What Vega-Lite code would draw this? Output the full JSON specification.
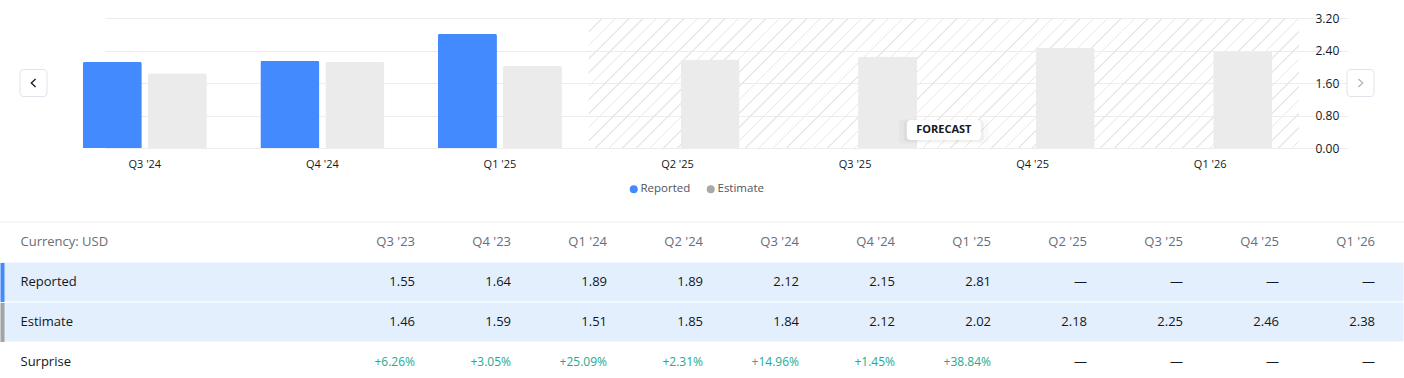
{
  "$schema": "https://vega.github.io/schema/vega-lite/v6.json",
  "width": 1404,
  "height": 378,
  "autosize": {"type": "none"},
  "padding": 0,
  "background": "white",
  "config": {
    "font": "Open Sans",
    "view": {"stroke": null},
    "axis": {"labelFont": "Open Sans"},
    "legend": {"labelFont": "Open Sans"},
    "text": {"font": "Open Sans"}
  },
  "datasets": {
    "eps": [
      {"quarter": "Q3 '24", "series": "Reported", "value": 2.12},
      {"quarter": "Q3 '24", "series": "Estimate", "value": 1.84},
      {"quarter": "Q4 '24", "series": "Reported", "value": 2.15},
      {"quarter": "Q4 '24", "series": "Estimate", "value": 2.12},
      {"quarter": "Q1 '25", "series": "Reported", "value": 2.81},
      {"quarter": "Q1 '25", "series": "Estimate", "value": 2.02},
      {"quarter": "Q2 '25", "series": "Estimate", "value": 2.18},
      {"quarter": "Q3 '25", "series": "Estimate", "value": 2.25},
      {"quarter": "Q4 '25", "series": "Estimate", "value": 2.46},
      {"quarter": "Q1 '26", "series": "Estimate", "value": 2.38}
    ],
    "table": [
      {"quarter": "Q3 '23", "row": "Reported", "text": "1.55"},
      {"quarter": "Q4 '23", "row": "Reported", "text": "1.64"},
      {"quarter": "Q1 '24", "row": "Reported", "text": "1.89"},
      {"quarter": "Q2 '24", "row": "Reported", "text": "1.89"},
      {"quarter": "Q3 '24", "row": "Reported", "text": "2.12"},
      {"quarter": "Q4 '24", "row": "Reported", "text": "2.15"},
      {"quarter": "Q1 '25", "row": "Reported", "text": "2.81"},
      {"quarter": "Q2 '25", "row": "Reported", "text": "—"},
      {"quarter": "Q3 '25", "row": "Reported", "text": "—"},
      {"quarter": "Q4 '25", "row": "Reported", "text": "—"},
      {"quarter": "Q1 '26", "row": "Reported", "text": "—"},
      {"quarter": "Q3 '23", "row": "Estimate", "text": "1.46"},
      {"quarter": "Q4 '23", "row": "Estimate", "text": "1.59"},
      {"quarter": "Q1 '24", "row": "Estimate", "text": "1.51"},
      {"quarter": "Q2 '24", "row": "Estimate", "text": "1.85"},
      {"quarter": "Q3 '24", "row": "Estimate", "text": "1.84"},
      {"quarter": "Q4 '24", "row": "Estimate", "text": "2.12"},
      {"quarter": "Q1 '25", "row": "Estimate", "text": "2.02"},
      {"quarter": "Q2 '25", "row": "Estimate", "text": "2.18"},
      {"quarter": "Q3 '25", "row": "Estimate", "text": "2.25"},
      {"quarter": "Q4 '25", "row": "Estimate", "text": "2.46"},
      {"quarter": "Q1 '26", "row": "Estimate", "text": "2.38"},
      {"quarter": "Q3 '23", "row": "Surprise", "text": "+6.26%"},
      {"quarter": "Q4 '23", "row": "Surprise", "text": "+3.05%"},
      {"quarter": "Q1 '24", "row": "Surprise", "text": "+25.09%"},
      {"quarter": "Q2 '24", "row": "Surprise", "text": "+2.31%"},
      {"quarter": "Q3 '24", "row": "Surprise", "text": "+14.96%"},
      {"quarter": "Q4 '24", "row": "Surprise", "text": "+1.45%"},
      {"quarter": "Q1 '25", "row": "Surprise", "text": "+38.84%"},
      {"quarter": "Q2 '25", "row": "Surprise", "text": "—"},
      {"quarter": "Q3 '25", "row": "Surprise", "text": "—"},
      {"quarter": "Q4 '25", "row": "Surprise", "text": "—"},
      {"quarter": "Q1 '26", "row": "Surprise", "text": "—"}
    ]
  },
  "layer": [
    {
      "layer": [
        {
          "data": {"values": [{"quarter": "Q2 '25"}, {"quarter": "Q3 '25"}, {"quarter": "Q4 '25"}, {"quarter": "Q1 '26"}]},
          "mark": {
            "type": "rect",
            "fill": {
              "gradient": "linear", "x1": 0, "y1": 0, "x2": 1.1277, "y2": 0.8256,
              "stops": [
                {"offset": 0, "color": "rgba(255,255,255,0)"},
                {"offset": 0.04191, "color": "rgba(255,255,255,0)"}, {"offset": 0.04191, "color": "#e8e8e8"}, {"offset": 0.04691, "color": "#e8e8e8"}, {"offset": 0.04691, "color": "rgba(255,255,255,0)"},
                {"offset": 0.08632, "color": "rgba(255,255,255,0)"}, {"offset": 0.08632, "color": "#e8e8e8"}, {"offset": 0.09132, "color": "#e8e8e8"}, {"offset": 0.09132, "color": "rgba(255,255,255,0)"},
                {"offset": 0.13073, "color": "rgba(255,255,255,0)"}, {"offset": 0.13073, "color": "#e8e8e8"}, {"offset": 0.13573, "color": "#e8e8e8"}, {"offset": 0.13573, "color": "rgba(255,255,255,0)"},
                {"offset": 0.17514, "color": "rgba(255,255,255,0)"}, {"offset": 0.17514, "color": "#e8e8e8"}, {"offset": 0.18014, "color": "#e8e8e8"}, {"offset": 0.18014, "color": "rgba(255,255,255,0)"},
                {"offset": 0.21955, "color": "rgba(255,255,255,0)"}, {"offset": 0.21955, "color": "#e8e8e8"}, {"offset": 0.22455, "color": "#e8e8e8"}, {"offset": 0.22455, "color": "rgba(255,255,255,0)"},
                {"offset": 0.26396, "color": "rgba(255,255,255,0)"}, {"offset": 0.26396, "color": "#e8e8e8"}, {"offset": 0.26896, "color": "#e8e8e8"}, {"offset": 0.26896, "color": "rgba(255,255,255,0)"},
                {"offset": 0.30837, "color": "rgba(255,255,255,0)"}, {"offset": 0.30837, "color": "#e8e8e8"}, {"offset": 0.31337, "color": "#e8e8e8"}, {"offset": 0.31337, "color": "rgba(255,255,255,0)"},
                {"offset": 0.35278, "color": "rgba(255,255,255,0)"}, {"offset": 0.35278, "color": "#e8e8e8"}, {"offset": 0.35778, "color": "#e8e8e8"}, {"offset": 0.35778, "color": "rgba(255,255,255,0)"},
                {"offset": 0.39719, "color": "rgba(255,255,255,0)"}, {"offset": 0.39719, "color": "#e8e8e8"}, {"offset": 0.40219, "color": "#e8e8e8"}, {"offset": 0.40219, "color": "rgba(255,255,255,0)"},
                {"offset": 0.4416, "color": "rgba(255,255,255,0)"}, {"offset": 0.4416, "color": "#e8e8e8"}, {"offset": 0.4466, "color": "#e8e8e8"}, {"offset": 0.4466, "color": "rgba(255,255,255,0)"},
                {"offset": 0.48601, "color": "rgba(255,255,255,0)"}, {"offset": 0.48601, "color": "#e8e8e8"}, {"offset": 0.49101, "color": "#e8e8e8"}, {"offset": 0.49101, "color": "rgba(255,255,255,0)"},
                {"offset": 0.53042, "color": "rgba(255,255,255,0)"}, {"offset": 0.53042, "color": "#e8e8e8"}, {"offset": 0.53542, "color": "#e8e8e8"}, {"offset": 0.53542, "color": "rgba(255,255,255,0)"},
                {"offset": 0.57483, "color": "rgba(255,255,255,0)"}, {"offset": 0.57483, "color": "#e8e8e8"}, {"offset": 0.57983, "color": "#e8e8e8"}, {"offset": 0.57983, "color": "rgba(255,255,255,0)"},
                {"offset": 0.61924, "color": "rgba(255,255,255,0)"}, {"offset": 0.61924, "color": "#e8e8e8"}, {"offset": 0.62424, "color": "#e8e8e8"}, {"offset": 0.62424, "color": "rgba(255,255,255,0)"},
                {"offset": 0.66365, "color": "rgba(255,255,255,0)"}, {"offset": 0.66365, "color": "#e8e8e8"}, {"offset": 0.66865, "color": "#e8e8e8"}, {"offset": 0.66865, "color": "rgba(255,255,255,0)"},
                {"offset": 0.70806, "color": "rgba(255,255,255,0)"}, {"offset": 0.70806, "color": "#e8e8e8"}, {"offset": 0.71306, "color": "#e8e8e8"}, {"offset": 0.71306, "color": "rgba(255,255,255,0)"},
                {"offset": 0.75247, "color": "rgba(255,255,255,0)"}, {"offset": 0.75247, "color": "#e8e8e8"}, {"offset": 0.75747, "color": "#e8e8e8"}, {"offset": 0.75747, "color": "rgba(255,255,255,0)"},
                {"offset": 0.79688, "color": "rgba(255,255,255,0)"}, {"offset": 0.79688, "color": "#e8e8e8"}, {"offset": 0.80188, "color": "#e8e8e8"}, {"offset": 0.80188, "color": "rgba(255,255,255,0)"},
                {"offset": 0.84129, "color": "rgba(255,255,255,0)"}, {"offset": 0.84129, "color": "#e8e8e8"}, {"offset": 0.84629, "color": "#e8e8e8"}, {"offset": 0.84629, "color": "rgba(255,255,255,0)"},
                {"offset": 0.8857, "color": "rgba(255,255,255,0)"}, {"offset": 0.8857, "color": "#e8e8e8"}, {"offset": 0.8907, "color": "#e8e8e8"}, {"offset": 0.8907, "color": "rgba(255,255,255,0)"},
                {"offset": 0.93011, "color": "rgba(255,255,255,0)"}, {"offset": 0.93011, "color": "#e8e8e8"}, {"offset": 0.93511, "color": "#e8e8e8"}, {"offset": 0.93511, "color": "rgba(255,255,255,0)"},
                {"offset": 0.97452, "color": "rgba(255,255,255,0)"}, {"offset": 0.97452, "color": "#e8e8e8"}, {"offset": 0.97952, "color": "#e8e8e8"}, {"offset": 0.97952, "color": "rgba(255,255,255,0)"},
                {"offset": 1, "color": "rgba(255,255,255,0)"}
              ]
            }
          },
          "encoding": {
            "x": {"field": "quarter", "type": "nominal", "title": null},
            "y": {"datum": 3.2},
            "y2": {"datum": 0}
          }
        },
        {
          "data": {"name": "eps"},
          "mark": {"type": "bar", "cornerRadiusTopLeft": 2, "cornerRadiusTopRight": 2},
          "encoding": {
            "x": {
              "field": "quarter", "type": "nominal", "title": null,
              "scale": {"type": "band", "domain": ["Q3 '24", "Q4 '24", "Q1 '25", "Q2 '25", "Q3 '25", "Q4 '25", "Q1 '26"], "range": [56, 1299], "paddingInner": 0, "paddingOuter": 0},
              "axis": {"orient": "bottom", "offset": -230, "domain": false, "ticks": false, "tickSize": 0, "labelPadding": 10, "labelAlign": "center", "labelBaseline": "top", "labelOffset": 0, "labelFontSize": 11, "labelColor": "#131722", "labelAngle": 0, "grid": false, "title": null, "labelOverlap": false}
            },
            "xOffset": {"field": "series", "type": "nominal", "scale": {"domain": ["Reported", "Estimate"], "paddingInner": 0.092, "paddingOuter": 0.412}},
            "y": {
              "field": "value", "type": "quantitative", "title": null,
              "scale": {"domain": [0, 3.2], "range": [148, 18], "nice": false, "zero": true},
              "axis": {"orient": "right", "offset": -89, "values": [0, 0.8, 1.6, 2.4, 3.2], "format": ".2f", "domain": false, "ticks": false, "tickSize": 0, "labelPadding": 0, "labelAlign": "left", "labelFontSize": 12, "labelColor": "#131722", "labelBaseline": "middle", "labelFlush": false, "labelOverlap": false, "grid": true, "gridColor": "#ededed", "title": null}
            },
            "fill": {"field": "series", "type": "nominal", "scale": {"range": ["#ebebeb", "#448aff"]}, "legend": null}
          }
        },
        {
          "data": {"values": [{"key": "Reported"}, {"key": "Estimate"}]},
          "mark": {"type": "point", "filled": true, "opacity": 0},
          "encoding": {
            "color": {
              "field": "key", "type": "nominal",
              "scale": {"domain": ["Reported", "Estimate"], "range": ["#448aff", "#a8a8a8"]},
              "legend": {"orient": "none", "legendX": 628, "legendY": 183, "direction": "horizontal", "title": null, "symbolType": "circle", "symbolSize": 64, "symbolStrokeWidth": 0, "symbolOpacity": 1, "labelFontSize": 11.5, "labelColor": "#50535e", "labelOffset": 1, "columnPadding": 14, "padding": 0}
            }
          }
        },
        {
          "data": {"values": [{"quarter": "Q3 '24"}]},
          "mark": {"type": "point", "filled": true, "fill": "white", "stroke": "#e0e3eb", "strokeWidth": 1, "opacity": 1, "size": 729,
            "shape": "M-8.9444,-1 L-7.5444,-1 Q-7.2444,-1 -7.2444,-0.7 L-7.2444,0.7 Q-7.2444,1 -7.5444,1 L-8.9444,1 Q-9.2444,1 -9.2444,0.7 L-9.2444,-0.7 Q-9.2444,-1 -8.9444,-1 Z"},
          "encoding": {"x": {"field": "quarter", "type": "nominal", "title": null}, "y": {"datum": 1.6}}
        },
        {
          "data": {"values": [{"quarter": "Q3 '24"}]},
          "mark": {"type": "point", "filled": false, "stroke": "#131722", "strokeWidth": 1.3, "opacity": 1, "size": 729,
            "shape": "M-8.089,-0.296 L-8.407,0 L-8.089,0.296"},
          "encoding": {"x": {"field": "quarter", "type": "nominal", "title": null}, "y": {"datum": 1.6}}
        },
        {
          "data": {"values": [{"quarter": "Q1 '26"}]},
          "mark": {"type": "point", "filled": true, "fill": "white", "stroke": "#e0e3eb", "strokeWidth": 1, "opacity": 1, "size": 729,
            "shape": "M10.433,-1 L11.833,-1 Q12.133,-1 12.133,-0.7 L12.133,0.7 Q12.133,1 11.833,1 L10.433,1 Q10.133,1 10.133,0.7 L10.133,-0.7 Q10.133,-1 10.433,-1 Z"},
          "encoding": {"x": {"field": "quarter", "type": "nominal", "title": null}, "y": {"datum": 1.6}}
        },
        {
          "data": {"values": [{"quarter": "Q1 '26"}]},
          "mark": {"type": "point", "filled": false, "stroke": "#b2b5be", "strokeWidth": 1.3, "opacity": 1, "size": 729,
            "shape": "M10.977,-0.296 L11.295,0 L10.977,0.296"},
          "encoding": {"x": {"field": "quarter", "type": "nominal", "title": null}, "y": {"datum": 1.6}}
        },
        {
          "data": {"values": [{"quarter": "Q4 '25"}]},
          "mark": {"type": "point", "filled": true, "fill": "black", "opacity": 0.025, "size": 8100,
            "shape": "M-0.892,-0.27 L0.892,-0.27 Q1,-0.27 1,-0.162 L1,0.162 Q1,0.27 0.892,0.27 L-0.892,0.27 Q-1,0.27 -1,0.162 L-1,-0.162 Q-1,-0.27 -0.892,-0.27 Z"},
          "encoding": {"x": {"field": "quarter", "type": "nominal", "bandPosition": 0, "title": null}, "y": {"datum": 0.41}}
        },
        {
          "data": {"values": [{"quarter": "Q4 '25"}]},
          "mark": {"type": "point", "filled": true, "fill": "black", "opacity": 0.04, "size": 6400,
            "shape": "M-0.892,-0.27 L0.892,-0.27 Q1,-0.27 1,-0.162 L1,0.162 Q1,0.27 0.892,0.27 L-0.892,0.27 Q-1,0.27 -1,0.162 L-1,-0.162 Q-1,-0.27 -0.892,-0.27 Z"},
          "encoding": {"x": {"field": "quarter", "type": "nominal", "bandPosition": 0, "title": null}, "y": {"datum": 0.42}}
        },
        {
          "data": {"values": [{"quarter": "Q4 '25"}]},
          "mark": {"type": "point", "filled": true, "fill": "white", "opacity": 1, "size": 5476,
            "shape": "M-0.892,-0.27 L0.892,-0.27 Q1,-0.27 1,-0.162 L1,0.162 Q1,0.27 0.892,0.27 L-0.892,0.27 Q-1,0.27 -1,0.162 L-1,-0.162 Q-1,-0.27 -0.892,-0.27 Z"},
          "encoding": {"x": {"field": "quarter", "type": "nominal", "bandPosition": 0, "title": null}, "y": {"datum": 0.443}}
        },
        {
          "data": {"values": [{"quarter": "Q4 '25", "label": "FORECAST"}]},
          "mark": {"type": "text", "font": "Open Sans", "fontSize": 11, "fontWeight": "bold", "color": "#131722", "align": "center", "baseline": "middle"},
          "encoding": {"x": {"field": "quarter", "type": "nominal", "bandPosition": 0, "title": null}, "y": {"datum": 0.443}, "text": {"field": "label"}}
        }
      ]
    },
    {
      "layer": [
        {
          "data": {"values": [{"row": "Reported"}, {"row": "Estimate"}]},
          "mark": {"type": "rect", "fill": "#e3effd", "stroke": "white", "strokeWidth": 1},
          "encoding": {
            "y": {
              "field": "row", "type": "nominal", "title": null,
              "scale": {"type": "band", "domain": ["Currency: USD", "Reported", "Estimate", "Surprise"], "range": [222, 382], "paddingInner": 0, "paddingOuter": 0},
              "axis": {
                "orient": "left", "offset": -4, "domain": false, "ticks": true, "tickSize": 4, "tickWidth": 39, "tickCap": "butt",
                "tickColor": {"condition": [{"test": "datum.value === 'Reported'", "value": "#448aff"}, {"test": "datum.value === 'Estimate'", "value": "#a3a3a3"}], "value": "transparent"},
                "labelPadding": -20, "labelAlign": "left", "labelBaseline": "middle", "labelFontSize": 13,
                "labelColor": {"condition": {"test": "datum.value === 'Currency: USD'", "value": "#6a6d78"}, "value": "#131722"},
                "grid": false, "title": null, "zindex": 1, "labelOverlap": false
              }
            }
          }
        },
        {
          "data": {"values": [{"row": "Currency: USD"}]},
          "mark": {"type": "rule", "color": "#ececec", "strokeWidth": 1},
          "encoding": {"y": {"field": "row", "type": "nominal", "bandPosition": 0, "title": null}}
        },
        {
          "data": {"name": "table"},
          "mark": {"type": "text", "align": "right", "baseline": "middle", "font": "Open Sans"},
          "encoding": {
            "x": {
              "field": "quarter", "type": "nominal", "bandPosition": 1, "title": null,
              "scale": {"type": "band", "domain": ["Q3 '23", "Q4 '23", "Q1 '24", "Q2 '24", "Q3 '24", "Q4 '24", "Q1 '25", "Q2 '25", "Q3 '25", "Q4 '25", "Q1 '26"], "range": [319, 1375], "paddingInner": 0, "paddingOuter": 0},
              "axis": {"orient": "top", "offset": -241, "domain": false, "ticks": false, "tickSize": 0, "labelPadding": 0, "labelAlign": "right", "labelBaseline": "middle", "labelOffset": 48, "labelAngle": 0, "labelFontSize": 13, "labelColor": "#6a6d78", "grid": false, "title": null, "zindex": 1, "labelOverlap": false}
            },
            "y": {"field": "row", "type": "nominal", "title": null},
            "text": {"field": "text"},
            "color": {"condition": {"test": "datum.row === 'Surprise' && datum.text !== '—'", "value": "#22ab94"}, "value": "#131722"},
            "size": {"condition": {"test": "datum.row === 'Surprise' && datum.text !== '—'", "value": 12}, "value": 13}
          }
        }
      ]
    }
  ],
  "resolve": {
    "scale": {"x": "independent", "y": "independent"},
    "axis": {"x": "independent", "y": "independent"}
  }
}
